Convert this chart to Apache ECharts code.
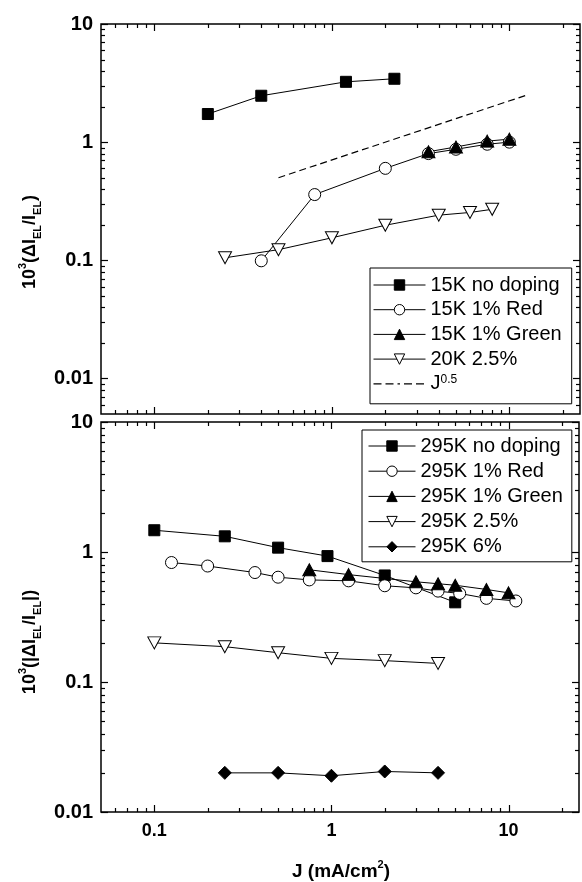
<!DOCTYPE html>
<html>
<head>
<meta charset="utf-8">
<script src="https://cdn.jsdelivr.net/npm/echarts@6/dist/echarts.min.js"></script>
<style>
html,body{margin:0;padding:0;background:#fff;}
#c{width:582px;height:882px;}
</style>
</head>
<body>
<div id="c"></div>
<script>
// ---------- data ----------
// Top panel (low temperature)
const topNoDopeJ = [0.2, 0.4, 1.2, 2.25];
const topNoDopeV = [1.73, 2.47, 3.24, 3.44];
const topRedJ = [0.4, 0.8, 2, 3.5, 5, 7.5, 10];
const topRedV = [0.099, 0.36, 0.60, 0.80, 0.87, 0.96, 1.0];
const topGreenJ = [3.5, 5, 7.5, 10];
const topGreenV = [0.83, 0.91, 1.02, 1.06];
const top25J = [0.25, 0.5, 1, 2, 4, 6, 8];
const top25V = [0.105, 0.123, 0.155, 0.198, 0.241, 0.254, 0.27];
const powJ = [0.5, 12.5];
const powV = [0.5, 2.5];
// Bottom panel (295 K)
const botNoDopeJ = [0.1, 0.25, 0.5, 0.95, 2, 5];
const botNoDopeV = [1.47, 1.32, 1.08, 0.93, 0.66, 0.41];
const botRedJ = [0.125, 0.2, 0.37, 0.5, 0.75, 1.25, 2, 3, 4, 5.3, 7.5, 11];
const botRedV = [0.83, 0.78, 0.695, 0.64, 0.61, 0.60, 0.55, 0.53, 0.50, 0.48, 0.44, 0.42];
const botGreenJ = [0.75, 1.25, 3, 4, 5, 7.5, 10];
const botGreenV = [0.73, 0.67, 0.59, 0.57, 0.555, 0.515, 0.485];
const bot25J = [0.1, 0.25, 0.5, 1, 2, 4];
const bot25V = [0.20, 0.187, 0.168, 0.152, 0.146, 0.139];
const bot6J = [0.25, 0.5, 1, 2, 4];
const bot6V = [0.020, 0.020, 0.019, 0.0205, 0.020];

// legend names
const topNames = ['15K no doping', '15K 1% Red', '15K 1% Green', '20K 2.5%', 'J0.5'];
const botNames = ['295K no doping', '295K 1% Red', '295K 1% Green', '295K 2.5%', '295K 6%'];

// axis tick values
const xMajorTicks = [0.1, 1, 10];
const xMinorTicks = [0.06, 0.07, 0.08, 0.09, 0.2, 0.3, 0.4, 0.5, 0.6, 0.7, 0.8, 0.9,
                     2, 3, 4, 5, 6, 7, 8, 9, 20];
const yTopMajorTicks = [0.01, 0.1, 1, 10];
const yTopMinorTicks = [0.006, 0.007, 0.008, 0.009, 0.02, 0.03, 0.04, 0.05, 0.06, 0.07, 0.08, 0.09,
                        0.2, 0.3, 0.4, 0.5, 0.6, 0.7, 0.8, 0.9, 2, 3, 4, 5, 6, 7, 8, 9];
const yBotMajorTicks = [0.01, 0.1, 1, 10];
const yBotMinorTicks = [0.02, 0.03, 0.04, 0.05, 0.06, 0.07, 0.08, 0.09,
                        0.2, 0.3, 0.4, 0.5, 0.6, 0.7, 0.8, 0.9, 2, 3, 4, 5, 6, 7, 8, 9];

// ---------- helpers ----------
const pair = (xs, ys) => xs.map((x, i) => [x, ys[i]]);
const FONT = 'Liberation Sans, Arial, Helvetica, sans-serif';
const MAJ = 7, MIN = 4;

function tickData(xMaj, xMin, yMaj, yMin) {
  const d = [];
  xMaj.forEach(v => d.push([v, 1, 0, MAJ]));
  xMin.forEach(v => d.push([v, 1, 0, MIN]));
  yMaj.forEach(v => d.push([1, v, 1, MAJ]));
  yMin.forEach(v => d.push([1, v, 1, MIN]));
  return d;
}
function tickRender(params, api) {
  const cs = params.coordSys;
  const kind = api.value(2), len = api.value(3);
  const style = { stroke: '#000', lineWidth: 1.2 };
  if (kind === 0) {
    const x = Math.round(api.coord([api.value(0), 1])[0]) + 0.5;
    return { type: 'group', children: [
      { type: 'line', shape: { x1: x, y1: cs.y + cs.height, x2: x, y2: cs.y + cs.height - len }, style },
      { type: 'line', shape: { x1: x, y1: cs.y, x2: x, y2: cs.y + len }, style }
    ]};
  }
  const y = Math.round(api.coord([1, api.value(1)])[1]) + 0.5;
  return { type: 'group', children: [
    { type: 'line', shape: { x1: cs.x, y1: y, x2: cs.x + len, y2: y }, style },
    { type: 'line', shape: { x1: cs.x + cs.width, y1: y, x2: cs.x + cs.width - len, y2: y }, style }
  ]};
}
function isDecade(v) {
  const l = Math.log10(v);
  return Math.abs(l - Math.round(l)) < 1e-6;
}
function decLabel(v) {
  if (!isDecade(v)) return '';
  const e = Math.round(Math.log10(v));
  return e >= 0 ? String(Math.pow(10, e)) : '0.' + '0'.repeat(-e - 1) + '1';
}

const markers = {
  square:  { symbol: 'rect', symbolSize: 11, fill: '#000' },
  circle:  { symbol: 'circle', symbolSize: 12, fill: '#fff' },
  triUp:   { symbol: 'triangle', symbolSize: [13, 12], fill: '#000' },
  triDown: { symbol: 'triangle', symbolSize: [13, 12], fill: '#fff', rotate: 180 },
  diamond: { symbol: 'diamond', symbolSize: [13, 13], fill: '#000' }
};
function lineSeries(name, data, mk, gi) {
  return {
    type: 'line', name, data, xAxisIndex: gi, yAxisIndex: gi,
    symbol: mk.symbol, symbolSize: mk.symbolSize, symbolRotate: mk.rotate || 0,
    showAllSymbol: true,
    lineStyle: { color: '#000', width: 1 },
    itemStyle: { color: mk.fill, borderColor: '#000', borderWidth: 1, opacity: 1 },
    emphasis: { disabled: true },
    animation: false, z: 3
  };
}
function legendItem(name, mk) {
  return {
    name,
    itemStyle: { color: mk.fill, borderColor: '#000', borderWidth: 1 },
    lineStyle: { color: '#000', width: 1 }
  };
}

const topMk = [markers.square, markers.circle, markers.triUp, markers.triDown];
const botMk = [markers.square, markers.circle, markers.triUp, markers.triDown, markers.diamond];

const chart = echarts.init(document.getElementById('c'), null, { renderer: 'canvas' });

const xAxisBase = (gi, showLabel) => ({
  type: 'log', logBase: 10, min: 0.05, max: 25, gridIndex: gi,
  axisLine: { show: false }, axisTick: { show: false }, splitLine: { show: false },
  axisLabel: {
    show: showLabel, formatter: decLabel, color: '#000', fontSize: 18,
    fontWeight: 'bold', fontFamily: FONT, margin: 10
  }
});
const yAxisBase = (gi, min, max) => ({
  type: 'log', logBase: 10, min, max, gridIndex: gi,
  axisLine: { show: false }, axisTick: { show: false }, splitLine: { show: false },
  axisLabel: {
    formatter: decLabel, color: '#000', fontSize: 20,
    fontWeight: 'bold', fontFamily: FONT, margin: 8
  }
});

const richLabel = {
  b: { fontSize: 18, fontWeight: 'bold', fontFamily: FONT, lineHeight: 26, fill: '#000' },
  sup: { fontSize: 11, fontWeight: 'bold', fontFamily: FONT, lineHeight: 12, verticalAlign: 'top', fill: '#000' },
  sub: { fontSize: 11, fontWeight: 'bold', fontFamily: FONT, lineHeight: 12, verticalAlign: 'bottom', fill: '#000' }
};

const option = {
  backgroundColor: '#fff',
  animation: false,
  grid: [
    { left: 101, top: 24, width: 479, height: 390, show: true, borderColor: '#000', borderWidth: 1.5, backgroundColor: 'transparent' },
    { left: 101, top: 422, width: 479, height: 390, show: true, borderColor: '#000', borderWidth: 1.5, backgroundColor: 'transparent' }
  ],
  xAxis: [xAxisBase(0, false), xAxisBase(1, true)],
  yAxis: [yAxisBase(0, 0.005, 10), yAxisBase(1, 0.01, 10)],
  legend: [
    {
      orient: 'vertical', left: 370, top: 268,
      padding: [7, 10, 10, 3],
      itemWidth: 52, itemHeight: 13, itemGap: 4.7,
      borderColor: '#000', borderWidth: 1, borderRadius: 0, backgroundColor: '#fff',
      selectedMode: false,
      textStyle: { fontSize: 20, fontFamily: FONT, color: '#000', lineHeight: 20,
        rich: { s: { fontSize: 12, fontFamily: FONT, color: '#000', verticalAlign: 'top', lineHeight: 12 } } },
      formatter: n => n === 'J0.5' ? 'J{s|0.5}' : n,
      data: [
        legendItem(topNames[0], topMk[0]),
        legendItem(topNames[1], topMk[1]),
        legendItem(topNames[2], topMk[2]),
        legendItem(topNames[3], topMk[3]),
        { name: 'J0.5', itemStyle: { color: '#000', borderWidth: 0 },
          icon: 'path://M0,0h0.05v0.05h-0.05z M51.95,12.95h0.05v0.05h-0.05z M0,5.9h8v1.2h-8z M12,5.9h8v1.2h-8z M24,5.9h2.5v1.2h-2.5z M30.5,5.9h8v1.2h-8z M42.5,5.9h8v1.2h-8z' }
      ]
    },
    {
      orient: 'vertical', left: 362, top: 430,
      padding: [6, 9, 5, 6],
      itemWidth: 47, itemHeight: 13, itemGap: 5.2,
      borderColor: '#000', borderWidth: 1, borderRadius: 0, backgroundColor: '#fff',
      selectedMode: false,
      textStyle: { fontSize: 20, fontFamily: FONT, color: '#000', lineHeight: 20 },
      data: botNames.map((n, i) => legendItem(n, botMk[i]))
    }
  ],
  graphic: [
    { type: 'text', x: 30, y: 242, rotation: Math.PI / 2, z: 10,
      style: { text: '{b|10}{sup|3}{b|(ΔI}{sub|EL}{b|/I}{sub|EL}{b|)}', rich: richLabel,
               align: 'center', verticalAlign: 'middle' } },
    { type: 'text', x: 30, y: 642, rotation: Math.PI / 2, z: 10,
      style: { text: '{b|10}{sup|3}{b|(|ΔI}{sub|EL}{b|/I}{sub|EL}{b||)}', rich: richLabel,
               align: 'center', verticalAlign: 'middle' } },
    { type: 'text', x: 341, y: 872, z: 10,
      style: { text: '{b|J (mA/cm}{sup|2}{b|)}',
               rich: {
                 b: { fontSize: 19, fontWeight: 'bold', fontFamily: FONT, lineHeight: 26, fill: '#000' },
                 sup: { fontSize: 11, fontWeight: 'bold', fontFamily: FONT, lineHeight: 12, verticalAlign: 'top', fill: '#000' }
               },
               align: 'center', verticalAlign: 'middle' } }
  ],
  series: [
    { type: 'custom', xAxisIndex: 0, yAxisIndex: 0, silent: true, z: 1,
      data: tickData(xMajorTicks, xMinorTicks, yTopMajorTicks, yTopMinorTicks), renderItem: tickRender },
    { type: 'custom', xAxisIndex: 1, yAxisIndex: 1, silent: true, z: 1,
      data: tickData(xMajorTicks, xMinorTicks, yBotMajorTicks, yBotMinorTicks), renderItem: tickRender },

    lineSeries(topNames[0], pair(topNoDopeJ, topNoDopeV), topMk[0], 0),
    lineSeries(topNames[1], pair(topRedJ, topRedV), topMk[1], 0),
    lineSeries(topNames[2], pair(topGreenJ, topGreenV), topMk[2], 0),
    lineSeries(topNames[3], pair(top25J, top25V), topMk[3], 0),
    {
      type: 'line', name: 'J0.5', data: pair(powJ, powV), xAxisIndex: 0, yAxisIndex: 0,
      symbol: 'none', lineStyle: { color: '#000', width: 1.2, type: [7, 4] },
      itemStyle: { color: '#000' }, emphasis: { disabled: true }, z: 2
    },

    lineSeries(botNames[0], pair(botNoDopeJ, botNoDopeV), botMk[0], 1),
    lineSeries(botNames[1], pair(botRedJ, botRedV), botMk[1], 1),
    lineSeries(botNames[2], pair(botGreenJ, botGreenV), botMk[2], 1),
    lineSeries(botNames[3], pair(bot25J, bot25V), botMk[3], 1),
    lineSeries(botNames[4], pair(bot6J, bot6V), botMk[4], 1)
  ]
};
chart.setOption(option);
</script>
</body>
</html>
